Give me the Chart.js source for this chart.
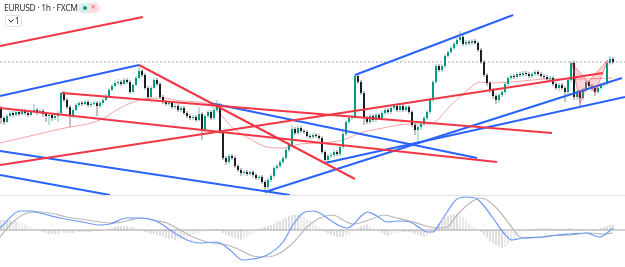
<!DOCTYPE html>
<html>
<head>
<meta charset="utf-8">
<script src="https://cdn.jsdelivr.net/npm/chart.js@4.4.1/dist/chart.umd.min.js"></script>
<style>
  html, body { margin: 0; padding: 0; background: #fff; }
  #wrap { position: relative; width: 625px; height: 267px; overflow: hidden; font-family: "Noto Sans", Roboto, sans-serif; }
  #main { position: absolute; left: 0; top: 0; }
  #sep  { position: absolute; left: 0; top: 195px; width: 625px; height: 1px; background: #e0e3eb; }
  #macd { position: absolute; left: 0; top: 196px; }
  .title { position: absolute; left: 4px; top: 2px; font-size: 8.5px; letter-spacing: -0.3px; color: #2a2e39; white-space: nowrap; }
  .badge { position: absolute; left: 78px; top: 3px; width: 22px; height: 10px; border-radius: 5px;
           background: linear-gradient(90deg, #d9f1ec 50%, #fbe0e3 50%); }
  .badge .g { position: absolute; left: 5px; top: 3px; width: 4px; height: 4px; border-radius: 2px; background: #089981; }
  .badge .r { position: absolute; left: 13px; top: -2px; font-size: 8px; color: #f7525f; line-height: 12px; }
  .lvl { position: absolute; left: 5px; top: 15px; width: 15px; height: 10px; border: 1px solid #e0e3eb; border-radius: 2px;
         font-size: 8px; color: #2a2e39; line-height: 10px; }
  .lvl svg { position: absolute; left: 2px; top: 3px; }
  .lvl span { position: absolute; left: 9px; top: 0; }
</style>
</head>
<body>
<div id="wrap">
  <canvas id="main" width="625" height="195"></canvas>
  <div id="sep"></div>
  <canvas id="macd" width="625" height="71"></canvas>
  <div class="title">EURUSD · 1h · FXCM</div>
  <div class="badge"><div class="g"></div><div class="r">×</div></div>
  <div class="lvl"><svg width="6" height="4"><polyline points="0.5,0.5 3,3 5.5,0.5" fill="none" stroke="#2a2e39" stroke-width="1"/></svg><span>1</span></div>
</div>
<script>
'use strict';

/* ──────────────────────────────────────────
   Data — EURUSD 1h (FXCM), one candle per bar index
   ────────────────────────────────────────── */
const firstOpen = 1.0792;

const closes = [
  1.0782, 1.0778, 1.0784, 1.0787, 1.0785, 1.0788, 1.0786, 1.0789, 1.0787, 1.0785,
  1.0788, 1.0790, 1.0787, 1.0789, 1.0786, 1.0784, 1.0785, 1.0782, 1.0784, 1.0787,
  1.0807, 1.0800, 1.0793, 1.0784, 1.0790, 1.0795, 1.0797, 1.0796, 1.0798, 1.0795,
  1.0796, 1.0797, 1.0794, 1.0797, 1.0800, 1.0804, 1.0810, 1.0814, 1.0817, 1.0818,
  1.0816, 1.0820, 1.0818, 1.0808, 1.0815, 1.0822, 1.0829, 1.0825, 1.0812, 1.0803,
  1.0812, 1.0820, 1.0816, 1.0803, 1.0798, 1.0796, 1.0797, 1.0793, 1.0794, 1.0790,
  1.0792, 1.0787, 1.0784, 1.0782, 1.0783, 1.0780, 1.0786, 1.0770, 1.0784, 1.0788,
  1.0782, 1.0790, 1.0795, 1.0768, 1.0742, 1.0738, 1.0744, 1.0742, 1.0734, 1.0730,
  1.0727, 1.0728, 1.0726, 1.0728, 1.0725, 1.0722, 1.0723, 1.0718, 1.0713, 1.0720,
  1.0724, 1.0732, 1.0734, 1.0738, 1.0742, 1.0750, 1.0755, 1.0771, 1.0767, 1.0772,
  1.0769, 1.0768, 1.0764, 1.0763, 1.0765, 1.0764, 1.0762, 1.0748, 1.0740, 1.0744,
  1.0745, 1.0748, 1.0746, 1.0753, 1.0766, 1.0778, 1.0782, 1.0783, 1.0824, 1.0818,
  1.0807, 1.0782, 1.0778, 1.0784, 1.0780, 1.0785, 1.0782, 1.0787, 1.0790, 1.0788,
  1.0792, 1.0794, 1.0790, 1.0794, 1.0790, 1.0793, 1.0788, 1.0775, 1.0770, 1.0773,
  1.0776, 1.0782, 1.0788, 1.0800, 1.0818, 1.0834, 1.0830, 1.0834, 1.0844, 1.0848,
  1.0852, 1.0856, 1.0860, 1.0863, 1.0856, 1.0858, 1.0857, 1.0859, 1.0857, 1.0850,
  1.0838, 1.0825, 1.0817, 1.0810, 1.0804, 1.0800, 1.0805, 1.0808, 1.0816, 1.0822,
  1.0824, 1.0823, 1.0826, 1.0825, 1.0827, 1.0826, 1.0824, 1.0826, 1.0828, 1.0826,
  1.0824, 1.0823, 1.0821, 1.0822, 1.0816, 1.0812, 1.0815, 1.0812, 1.0808, 1.0820,
  1.0837, 1.0803, 1.0808, 1.0802, 1.0810, 1.0818, 1.0814, 1.0812, 1.0808, 1.0812,
  1.0815, 1.0816, 1.0837, 1.0841, 1.0838
];

const highs = [
  1.0794, 1.0784, 1.0786, 1.0789, 1.0789, 1.0790, 1.0790, 1.0791, 1.0791, 1.0789,
  1.0790, 1.0796, 1.0792, 1.0791, 1.0791, 1.0788, 1.0787, 1.0787, 1.0786, 1.0789,
  1.0808, 1.0809, 1.0802, 1.0795, 1.0792, 1.0797, 1.0799, 1.0799, 1.0800, 1.0800,
  1.0798, 1.0799, 1.0799, 1.0799, 1.0802, 1.0806, 1.0812, 1.0816, 1.0820, 1.0821,
  1.0820, 1.0822, 1.0822, 1.0820, 1.0817, 1.0824, 1.0835, 1.0831, 1.0827, 1.0814,
  1.0814, 1.0822, 1.0822, 1.0818, 1.0805, 1.0800, 1.0799, 1.0799, 1.0796, 1.0796,
  1.0794, 1.0794, 1.0789, 1.0786, 1.0785, 1.0785, 1.0793, 1.0788, 1.0786, 1.0790,
  1.0790, 1.0792, 1.0800, 1.0797, 1.0770, 1.0744, 1.0746, 1.0746, 1.0744, 1.0736,
  1.0732, 1.0730, 1.0730, 1.0730, 1.0730, 1.0727, 1.0725, 1.0725, 1.0720, 1.0722,
  1.0726, 1.0734, 1.0736, 1.0740, 1.0744, 1.0752, 1.0757, 1.0775, 1.0773, 1.0774,
  1.0774, 1.0771, 1.0770, 1.0766, 1.0767, 1.0767, 1.0766, 1.0764, 1.0750, 1.0746,
  1.0747, 1.0750, 1.0750, 1.0755, 1.0768, 1.0780, 1.0784, 1.0785, 1.0826, 1.0826,
  1.0820, 1.0809, 1.0784, 1.0786, 1.0786, 1.0787, 1.0787, 1.0789, 1.0792, 1.0792,
  1.0794, 1.0796, 1.0796, 1.0796, 1.0796, 1.0795, 1.0795, 1.0790, 1.0777, 1.0775,
  1.0778, 1.0784, 1.0790, 1.0802, 1.0820, 1.0836, 1.0836, 1.0836, 1.0846, 1.0850,
  1.0854, 1.0858, 1.0862, 1.0869, 1.0865, 1.0860, 1.0860, 1.0861, 1.0861, 1.0859,
  1.0852, 1.0840, 1.0827, 1.0819, 1.0812, 1.0806, 1.0807, 1.0810, 1.0818, 1.0824,
  1.0826, 1.0826, 1.0828, 1.0828, 1.0829, 1.0829, 1.0828, 1.0828, 1.0830, 1.0830,
  1.0828, 1.0826, 1.0825, 1.0824, 1.0824, 1.0818, 1.0817, 1.0817, 1.0814, 1.0822,
  1.0839, 1.0839, 1.0810, 1.0810, 1.0812, 1.0820, 1.0820, 1.0816, 1.0814, 1.0814,
  1.0817, 1.0818, 1.0839, 1.0844, 1.0843
];

const lows = [
  1.0776, 1.0775, 1.0777, 1.0783, 1.0783, 1.0784, 1.0784, 1.0785, 1.0785, 1.0783,
  1.0784, 1.0787, 1.0785, 1.0786, 1.0783, 1.0778, 1.0775, 1.0779, 1.0780, 1.0778,
  1.0785, 1.0798, 1.0791, 1.0773, 1.0782, 1.0789, 1.0793, 1.0794, 1.0794, 1.0793,
  1.0793, 1.0795, 1.0784, 1.0792, 1.0795, 1.0799, 1.0803, 1.0809, 1.0813, 1.0815,
  1.0814, 1.0815, 1.0816, 1.0806, 1.0807, 1.0814, 1.0821, 1.0823, 1.0810, 1.0801,
  1.0802, 1.0811, 1.0814, 1.0801, 1.0796, 1.0794, 1.0794, 1.0791, 1.0791, 1.0788,
  1.0788, 1.0785, 1.0782, 1.0780, 1.0780, 1.0778, 1.0779, 1.0760, 1.0768, 1.0782,
  1.0780, 1.0780, 1.0788, 1.0766, 1.0740, 1.0735, 1.0736, 1.0740, 1.0732, 1.0728,
  1.0724, 1.0725, 1.0724, 1.0724, 1.0723, 1.0720, 1.0720, 1.0716, 1.0709, 1.0711,
  1.0718, 1.0722, 1.0730, 1.0732, 1.0736, 1.0740, 1.0748, 1.0753, 1.0765, 1.0765,
  1.0767, 1.0766, 1.0762, 1.0761, 1.0761, 1.0762, 1.0760, 1.0746, 1.0737, 1.0738,
  1.0742, 1.0743, 1.0744, 1.0744, 1.0751, 1.0764, 1.0776, 1.0780, 1.0781, 1.0816,
  1.0805, 1.0775, 1.0776, 1.0776, 1.0778, 1.0778, 1.0780, 1.0780, 1.0785, 1.0786,
  1.0786, 1.0790, 1.0788, 1.0788, 1.0788, 1.0788, 1.0786, 1.0773, 1.0765, 1.0758,
  1.0770, 1.0774, 1.0780, 1.0786, 1.0798, 1.0816, 1.0828, 1.0828, 1.0832, 1.0842,
  1.0846, 1.0850, 1.0854, 1.0858, 1.0854, 1.0854, 1.0855, 1.0855, 1.0855, 1.0848,
  1.0836, 1.0823, 1.0814, 1.0807, 1.0801, 1.0796, 1.0797, 1.0803, 1.0806, 1.0814,
  1.0820, 1.0821, 1.0821, 1.0823, 1.0823, 1.0824, 1.0822, 1.0822, 1.0824, 1.0824,
  1.0822, 1.0821, 1.0819, 1.0819, 1.0814, 1.0810, 1.0809, 1.0810, 1.0798, 1.0806,
  1.0818, 1.0800, 1.0800, 1.0792, 1.0800, 1.0808, 1.0812, 1.0809, 1.0804, 1.0806,
  1.0810, 1.0813, 1.0814, 1.0835, 1.0836
];

/* moving average — [bar index, price] */
const maLine = [
  [-0.3, 1.0757], [9.7, 1.0764], [19.7, 1.0771], [33, 1.0780], [39.7, 1.0792], [46.3, 1.0800],
  [53, 1.0802], [60.7, 1.0799], [69.7, 1.0795], [77.3, 1.0772], [83, 1.0761], [88.7, 1.0753],
  [94, 1.0752], [99.7, 1.0756], [106.3, 1.0757], [114, 1.0760], [119.7, 1.0767], [127.3, 1.0772],
  [136.3, 1.0776], [143, 1.0776], [149.7, 1.0794], [156.3, 1.0812], [159.7, 1.0818], [163, 1.0817],
  [169.7, 1.0818], [183, 1.0821], [193, 1.0821], [203.7, 1.0822]
];

/* drawn trend lines — [[bar, price], [bar, price]] */
const redLines = [
  [[-0.3, 1.0854], [47.3, 1.0883]],
  [[46, 1.0835], [118, 1.0721]],
  [[20.3, 1.0807], [183.7, 1.0767]],
  [[-0.3, 1.0792], [165.3, 1.0738]],
  [[-0.3, 1.0735], [200.7, 1.0827]]
];
const blueLines = [
  [[-0.3, 1.0804], [46, 1.0835]],
  [[-0.3, 1.0749], [96.3, 1.0705]],
  [[-0.3, 1.0725], [36.3, 1.0705]],
  [[69.7, 1.0797], [158.7, 1.0742]],
  [[118, 1.0825], [170.7, 1.0885]],
  [[88, 1.0708], [207, 1.0822]],
  [[108, 1.0737], [208, 1.0803]]
];

/* harmonic pattern X A B C D — bar index / price */
const patBars   = [190.3, 193, 195.7, 198, 202.3];
const patPrices = [1.0837, 1.0797, 1.0818, 1.0807, 1.0840];

/* MACD (values in pips) */
const macdHist = [
  1.0, 1.0, 1.0, 1.0, 0.9, 0.9, 0.8, 0.7, 0.6, 0.4,
  0.3, 0.1, 0, -0.1, -0.2, -0.3, -0.4, -0.4, -0.4, -0.4,
  -0.3, -0.3, -0.3, -0.3, -0.3, -0.2, -0.2, -0.2, -0.2, -0.2,
  -0.2, -0.1, -0.1, -0.1, 0, 0, 0.1, 0.2, 0.3, 0.4,
  0.4, 0.4, 0.4, 0.3, 0.3, 0.2, 0.1, -0.1, -0.2, -0.3,
  -0.4, -0.4, -0.5, -0.6, -0.7, -0.8, -0.9, -0.9, -1.0, -0.9,
  -0.9, -0.8, -0.7, -0.6, -0.5, -0.4, -0.3, -0.2, -0.1, -0.1,
  0, 0.1, 0.1, -0.1, -0.3, -0.5, -0.6, -0.7, -0.8, -0.9,
  -1.0, -0.9, -0.7, -0.5, -0.3, -0.1, 0.1, 0.2, 0.3, 0.4,
  0.5, 0.6, 0.8, 0.9, 1.1, 1.2, 1.4, 1.5, 1.5, 1.5,
  1.4, 1.3, 1.1, 1.0, 0.8, 0.5, 0.3, 0.1, -0.2, -0.4,
  -0.5, -0.6, -0.7, -0.7, -0.7, -0.6, -0.5, -0.3, 0, 0.2,
  0.4, 0.5, 0.6, 0.4, 0.2, 0.1, -0.1, -0.3, -0.5, -0.6,
  -0.5, -0.4, -0.3, -0.2, -0.2, -0.2, -0.2, -0.3, -0.4, -0.5,
  -0.6, -0.7, -0.6, -0.4, -0.1, 0.3, 0.6, 0.9, 1.2, 1.4,
  1.5, 1.6, 1.6, 1.5, 1.3, 1.0, 0.7, 0.4, 0.2, 0,
  -0.2, -0.5, -0.8, -1.1, -1.3, -1.5, -1.7, -1.8, -1.7, -1.5,
  -1.2, -0.9, -0.6, -0.3, -0.1, 0, 0.1, 0.1, 0.1, 0.2,
  0.2, 0.2, 0.2, 0.2, 0.1, 0.1, 0.1, 0.1, 0.1, 0.2,
  0.2, 0.1, 0.1, 0.1, 0.1, 0, 0, -0.1, -0.1, 0.1,
  0.2, 0.3, 0.4, 0.5, 0.5
];
const macdLine = [
  [-0.3, 0.2], [6.3, 1.9], [9.7, 1.9], [13, 1.7], [19.7, 1.2], [27.3, 0.8], [33, 0.5], [36.3, 0.6],
  [42, 1.2], [46.3, 1.2], [50.7, 1.0], [54, 0.5], [57.3, -0.2], [62, -1.0], [66.3, -1.3], [72, -1.2],
  [76.3, -2.0], [80.7, -3.0], [84, -2.9], [88.7, -2.5], [94, -1.2], [97.3, 0.5], [100.7, 1.7], [104, 1.9],
  [106.3, 1.7], [109.7, 1.0], [113, 0.4], [115.3, 0.2], [117.3, 0.5], [119.7, 1.3], [122.3, 1.8], [125.3, 1.4],
  [128.7, 0.8], [132, 0.9], [136.3, 0.8], [139.7, 0.2], [142, -0.2], [144, -0.2], [146.3, 0.7], [148.7, 1.8],
  [152, 3.1], [155.3, 3.3], [158.7, 3.1], [160.7, 2.5], [164, 1.2], [167.3, -0.2], [170.3, -1.0], [174, -0.8],
  [180.7, -0.7], [185.3, -0.5], [189.7, -0.4], [195.3, -0.3], [197.3, -0.5], [199.7, -0.7], [202, -0.3], [204, 0.2]
];
const signalLine = [
  [-0.3, -0.7], [4, 0.8], [8.7, 1.7], [12, 1.8], [16.3, 1.7], [22, 1.3], [28.7, 1.0], [33, 0.8],
  [37.3, 0.7], [42, 0.9], [46.3, 1.2], [50.7, 1.0], [55.3, 0.7], [59.7, 0.0], [64, -0.7], [68.7, -1.2],
  [75.3, -1.5], [79.7, -2.0], [84, -2.6], [88.7, -2.7], [93, -2.3], [97.3, -1.3], [102, 0.3], [106.3, 1.2],
  [110.7, 1.5], [114, 1.0], [117.3, 0.6], [120.7, 0.8], [125.3, 1.3], [127.3, 1.5], [132, 1.2], [136.3, 0.9],
  [140.7, 0.5], [145.3, 0.2], [148.7, 0.3], [152, 1.5], [156.3, 2.7], [159.7, 3.2], [163, 2.8], [166.3, 1.8],
  [169.7, 0.5], [173, -0.7], [176.3, -0.8], [183, -0.6], [189.7, -0.5], [196.3, -0.3], [200.7, -0.4], [204, -0.3]
];

/* ──────────────────────────────────────────
   Styling
   ────────────────────────────────────────── */
const UP = '#089981', DOWN = '#1b1e27';
const UP_WICK = 'rgba(8,153,129,0.55)', DOWN_WICK = 'rgba(27,30,39,0.55)';
const RED = '#f23645', BLUE = '#2962ff';
const X_MIN = -1 / 3, X_MAX = 208;

const pt = ([x, y]) => ({ x, y });
const opens = [firstOpen].concat(closes.slice(0, -1));
const isUp = closes.map((c, i) => c >= opens[i]);

const bodies = closes.map((c, i) => {
  const o = opens[i];
  return { x: i, y: Math.abs(c - o) < 0.00005 ? [o - 0.00005, o + 0.00005] : [o, c] };
});
const wicks = closes.map((_, i) => ({ x: i, y: [lows[i], highs[i]] }));

function trendDs(line, color) {
  return {
    type: 'line', data: line.map(pt), borderColor: color, borderWidth: 2,
    pointRadius: 0, fill: false, tension: 0, order: 0
  };
}

/* harmonic pattern triangles XAB + BCD */
const patternPlugin = {
  id: 'pattern',
  afterDatasetsDraw(chart) {
    const { ctx, scales: { x, y }, chartArea: a } = chart;
    ctx.save();
    ctx.beginPath();
    ctx.rect(a.left, a.top, a.right - a.left, a.bottom - a.top);
    ctx.clip();
    [[0, 1, 2], [2, 3, 4]].forEach(tri => {
      ctx.beginPath();
      tri.forEach((k, n) => {
        const px = x.getPixelForValue(patBars[k]), py = y.getPixelForValue(patPrices[k]);
        n ? ctx.lineTo(px, py) : ctx.moveTo(px, py);
      });
      ctx.closePath();
      ctx.fillStyle = 'rgba(242,54,69,0.22)';
      ctx.fill();
      ctx.strokeStyle = 'rgba(242,54,69,0.5)';
      ctx.lineWidth = 1;
      ctx.stroke();
    });
    ctx.restore();
  }
};

const hiddenX = { type: 'linear', min: X_MIN, max: X_MAX, display: false, offset: false };
const baseOpts = {
  responsive: false, animation: false, maintainAspectRatio: false,
  layout: { padding: 0 },
  plugins: { legend: { display: false }, tooltip: { enabled: false } }
};

/* ──────────────────────────────────────────
   Price panel
   ────────────────────────────────────────── */
new Chart(document.getElementById('main'), {
  type: 'bar',
  data: {
    datasets: [
      ...redLines.map(l => trendDs(l, RED)),
      ...blueLines.map(l => trendDs(l, BLUE)),
      {
        data: bodies, backgroundColor: isUp.map(u => u ? UP : DOWN),
        barThickness: 2, grouped: false, inflateAmount: 0, borderWidth: 0, order: 1
      },
      {
        data: wicks, backgroundColor: isUp.map(u => u ? UP_WICK : DOWN_WICK),
        barThickness: 1, grouped: false, inflateAmount: 0, borderWidth: 0, order: 2
      },
      {
        type: 'line', data: maLine.map(pt), borderColor: 'rgba(242,54,69,0.45)', borderWidth: 1,
        pointRadius: 0, cubicInterpolationMode: 'monotone', order: 3
      },
      {
        type: 'line', data: [{ x: X_MIN, y: closes[closes.length - 1] }, { x: X_MAX, y: closes[closes.length - 1] }],
        borderColor: '#a3a6af', borderWidth: 1, borderDash: [2, 2], pointRadius: 0, order: 4
      }
    ]
  },
  options: {
    ...baseOpts,
    scales: {
      x: hiddenX,
      y: { min: 1.0705, max: 1.0900, display: false }
    }
  },
  plugins: [patternPlugin]
});

/* ──────────────────────────────────────────
   MACD panel
   ────────────────────────────────────────── */
const histColors = macdHist.map((v, i) =>
  Math.abs(v) >= Math.abs(macdHist[i - 1] ?? 0) ? 'rgba(140,140,140,0.55)' : 'rgba(180,180,180,0.5)');

new Chart(document.getElementById('macd'), {
  type: 'bar',
  data: {
    datasets: [
      {
        type: 'line', data: macdLine.map(pt), borderColor: '#6d98f6', borderWidth: 1.2,
        pointRadius: 0, cubicInterpolationMode: 'monotone', order: 0
      },
      {
        type: 'line', data: signalLine.map(pt), borderColor: '#b9b9b9', borderWidth: 1.2,
        pointRadius: 0, cubicInterpolationMode: 'monotone', order: 1
      },
      {
        data: macdHist.map((v, i) => ({ x: i, y: v })), backgroundColor: histColors,
        barThickness: 1, grouped: false, inflateAmount: 0, borderWidth: 0, order: 2
      },
      {
        type: 'line', data: [{ x: X_MIN, y: 0 }, { x: X_MAX, y: 0 }],
        borderColor: '#a5a5a5', borderWidth: 1, pointRadius: 0, order: 3
      }
    ]
  },
  options: {
    ...baseOpts,
    scales: {
      x: hiddenX,
      y: { min: -3.7, max: 3.4, display: false }
    }
  }
});
</script>
</body>
</html>
